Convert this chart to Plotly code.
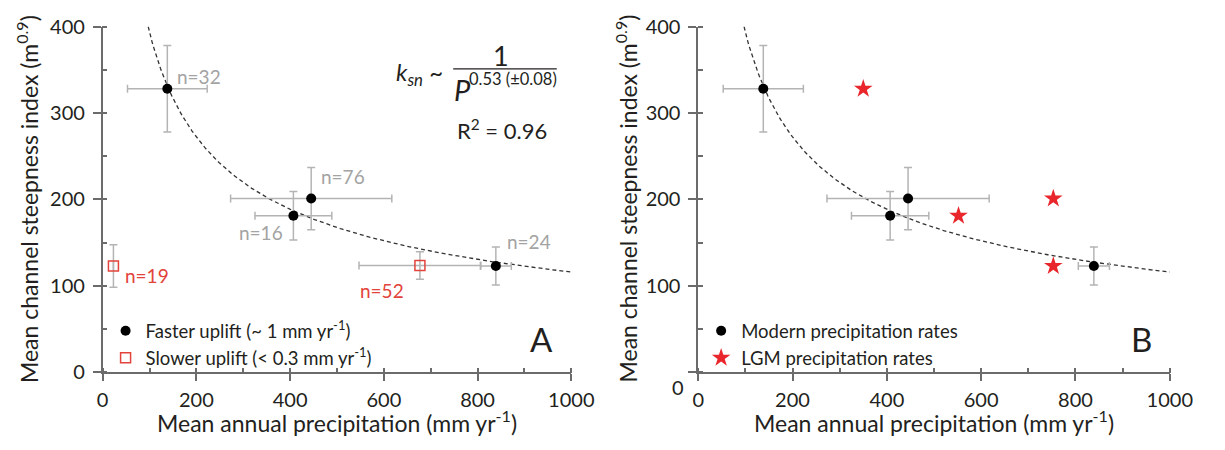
import numpy as np
import plotly.graph_objects as go

# ---------------- data ----------------
# Basins with faster rock uplift (~1 mm/yr), modern precipitation
precip_fast = [138, 407, 445, 839]          # mm/yr
precip_fast_err = [85, 82, 172, 33]
ksn_fast = [328, 181, 201, 123]             # m^0.9
ksn_fast_err = [50, 28, 36, 22]
n_fast = [32, 16, 76, 24]

# Basins with slower rock uplift (<0.3 mm/yr)
precip_slow = [23, 677]
precip_slow_err = [0, 130]
ksn_slow = [123, 123.5]
ksn_slow_err = [24.5, 16]
n_slow = [19, 52]

# Same fast-uplift basins under LGM precipitation rates
precip_lgm = [350, 552, 753, 753]

# Power-law fit  ksn ~ P^-0.53
FIT_EXP = 0.53
FIT_EXP_ERR = 0.08
FIT_COEF = 4513
FIT_R2 = 0.96

x_ticks = [0, 200, 400, 600, 800, 1000]
y_ticks = [0, 100, 200, 300, 400]

# ---------------- styling ----------------
FONT = "Lato"
AX = "#6b6b6b"
TXT = "#231f20"
ERR = "#b4b4b4"
RED = "#e2433b"
STAR = "#e8262b"
GREY_TXT = "#a3a3a3"

W, H = 1225, 450
A_X = [99 / W, 579 / W]
B_X = [709 / W, 1192 / W]
Y_DOM = [1 - 379.5 / H, 1 - 14.3 / H]

P_fit = np.linspace(90, 1000, 300)
ksn_fit = FIT_COEF * P_fit ** (-FIT_EXP)

fig = go.Figure()

err_style = dict(type="data", color=ERR, thickness=1.5, width=4)

for xa, ya in (("x", "y"), ("x2", "y2")):
    fig.add_trace(go.Scatter(
        x=P_fit, y=ksn_fit, mode="lines", xaxis=xa, yaxis=ya,
        line=dict(color="#333333", width=1.3, dash="4px,3px"),
        showlegend=False, hoverinfo="skip"))

# Panel A
fig.add_trace(go.Scatter(
    x=precip_slow, y=ksn_slow, mode="markers", xaxis="x", yaxis="y",
    name="Slower uplift (< 0.3 mm yr<sup>-1</sup>)",
    marker=dict(symbol="square-open", size=10, color=RED, line=dict(width=1.5, color=RED)),
    error_x=dict(array=precip_slow_err, **err_style),
    error_y=dict(array=ksn_slow_err, **err_style),
    legend="legend", legendrank=2))
fig.add_trace(go.Scatter(
    x=precip_fast, y=ksn_fast, mode="markers", xaxis="x", yaxis="y",
    name="Faster uplift (~ 1 mm yr<sup>-1</sup>)",
    marker=dict(symbol="circle", size=10, color="black"),
    error_x=dict(array=precip_fast_err, **err_style),
    error_y=dict(array=ksn_fast_err, **err_style),
    legend="legend", legendrank=1))

# Panel B
fig.add_trace(go.Scatter(
    x=precip_fast, y=ksn_fast, mode="markers", xaxis="x2", yaxis="y2",
    name="Modern precipitation rates",
    marker=dict(symbol="circle", size=10, color="black"),
    error_x=dict(array=precip_fast_err, **err_style),
    error_y=dict(array=ksn_fast_err, **err_style),
    legend="legend2", legendrank=1))
fig.add_trace(go.Scatter(
    x=precip_lgm, y=ksn_fast, mode="markers", xaxis="x2", yaxis="y2",
    name="LGM precipitation rates",
    marker=dict(symbol="star", size=14, color=STAR, line=dict(width=0)),
    legend="legend2", legendrank=2))

tickfont = dict(family=FONT, size=20, color=TXT)


def x_axis(domain, anchor):
    return dict(domain=domain, anchor=anchor, range=[0, 1000], tickvals=x_ticks,
                ticks="outside", ticklen=7, tickwidth=1.5, tickcolor=AX,
                showline=True, linecolor=AX, linewidth=1.5, showgrid=False,
                zeroline=False, tickfont=tickfont, ticklabelstandoff=2,
                minor=dict(dtick=100, tick0=0, ticks="inside", ticklen=5,
                           tickwidth=1.5, tickcolor=AX, showgrid=False))


def y_axis(anchor, ticktext):
    return dict(domain=Y_DOM, anchor=anchor, range=[0, 400], tickvals=y_ticks,
                ticktext=ticktext, ticks="outside", ticklen=8, tickwidth=1.5,
                tickcolor=AX, showline=True, linecolor=AX, linewidth=1.5,
                showgrid=False, zeroline=False, tickfont=tickfont,
                ticklabelstandoff=4,
                minor=dict(dtick=50, tick0=0, ticks="inside", ticklen=5,
                           tickwidth=1.5, tickcolor=AX, showgrid=False))


def top_axis(over, anchor):
    return dict(overlaying=over, side="top", anchor=anchor, range=[0, 1000],
                dtick=100, tick0=0, ticks="inside", ticklen=7, tickwidth=1.5,
                tickcolor=AX, showline=True, linecolor=AX, linewidth=1.5,
                showticklabels=False, showgrid=False, zeroline=False)


def right_axis(over, anchor):
    return dict(overlaying=over, side="right", anchor=anchor, range=[0, 400],
                dtick=50, tick0=0, ticks="inside", ticklen=6, tickwidth=1.5,
                tickcolor=AX, showline=True, linecolor=AX, linewidth=1.5,
                showticklabels=False, showgrid=False, zeroline=False)


ytext = [str(v) for v in y_ticks]
ytext_b = [""] + ytext[1:]

legend_font = dict(family=FONT, size=18.5, color=TXT)

fig.update_layout(
    width=W, height=H,
    margin=dict(l=0, r=0, t=0, b=0, pad=0),
    paper_bgcolor="white", plot_bgcolor="white",
    font=dict(family=FONT, color=TXT),
    xaxis=x_axis(A_X, "y"), yaxis=y_axis("x", ytext),
    xaxis2=x_axis(B_X, "y2"), yaxis2=y_axis("x2", ytext_b),
    xaxis3=top_axis("x", "y"), yaxis3=right_axis("y", "x"),
    xaxis4=top_axis("x2", "y2"), yaxis4=right_axis("y2", "x2"),
    legend=dict(x=102 / W, y=1 - 316 / H, xanchor="left", yanchor="top",
                bgcolor="rgba(0,0,0,0)", font=legend_font,
                traceorder="normal", itemwidth=30),
    legend2=dict(x=712 / W, y=1 - 316 / H, xanchor="left", yanchor="top",
                 bgcolor="rgba(0,0,0,0)", font=legend_font,
                 traceorder="normal", itemwidth=30),
)

ann = []

# axis titles
for cx in (339, 950):
    ann.append(dict(xref="paper", yref="paper", x=cx / W, y=1 - 432 / H,
                    text="Mean annual precipitation (mm yr<sup>-1</sup>)",
                    showarrow=False, font=dict(family=FONT, size=23, color=TXT),
                    xanchor="center", yanchor="middle"))
for cx in (22, 636):
    ann.append(dict(xref="paper", yref="paper", x=cx / W, y=1 - 196 / H,
                    text="Mean channel steepness index (m<sup>0.9</sup>)",
                    textangle=-90, showarrow=False,
                    font=dict(family=FONT, size=23, color=TXT),
                    xanchor="center", yanchor="middle"))

# offset "0" label on panel B's y axis
ann.append(dict(xref="paper", yref="paper", x=688 / W, y=1 - 395 / H, text="0",
                showarrow=False, font=tickfont, xanchor="center", yanchor="middle"))

# sample-size labels (pixel offsets from each point)
fast_off = [(32, 12), (-32, -17), (32, 22), (33, 24)]
for xv, yv, n, (dx, dy) in zip(precip_fast, ksn_fast, n_fast, fast_off):
    ann.append(dict(xref="x", yref="y", x=xv, y=yv, text=f"n={n}", showarrow=False,
                    xshift=dx, yshift=dy,
                    font=dict(family=FONT, size=19, color=GREY_TXT)))
slow_off = [(34, -10), (-38, -25)]
for xv, yv, n, (dx, dy) in zip(precip_slow, ksn_slow, n_slow, slow_off):
    ann.append(dict(xref="x", yref="y", x=xv, y=yv, text=f"n={n}", showarrow=False,
                    xshift=dx, yshift=dy,
                    font=dict(family=FONT, size=19, color=RED)))

# fit equation
ann.append(dict(xref="x", yref="y", x=731, y=346, xanchor="right", yanchor="middle",
                text="<i>k</i><sub><i>sn</i></sub> ~", showarrow=False,
                font=dict(family=FONT, size=24, color=TXT)))
ann.append(dict(xref="x", yref="y", x=849, y=367, xanchor="center", yanchor="middle",
                text="1", showarrow=False, font=dict(family=FONT, size=27, color=TXT)))
ann.append(dict(xref="x", yref="y", x=746, y=327, xanchor="left", yanchor="middle",
                text="<i>P</i>", showarrow=False,
                font=dict(family=FONT, size=29, color=TXT)))
ann.append(dict(xref="x", yref="y", x=777, y=339, xanchor="left", yanchor="middle",
                text=f"{FIT_EXP:.2f} (±{FIT_EXP_ERR:.2f})", showarrow=False,
                font=dict(family=FONT, size=16.5, color=TXT)))
ann.append(dict(xref="x", yref="y", x=852, y=281, xanchor="center", yanchor="middle",
                text=f"R<sup>2</sup> = {FIT_R2:.2f}", showarrow=False,
                font=dict(family=FONT, size=22, color=TXT)))

# panel letters
ann.append(dict(xref="x", yref="y", x=936, y=38, text="A", showarrow=False,
                font=dict(family=FONT, size=33, color=TXT)))
ann.append(dict(xref="x2", yref="y2", x=939, y=39, text="B", showarrow=False,
                font=dict(family=FONT, size=33, color=TXT)))

fig.update_layout(annotations=ann)

fig.add_shape(type="line", xref="x", yref="y", x0=748, x1=969, y0=351, y1=351,
              line=dict(color=TXT, width=1.3))

fig.write_html("out.html")
